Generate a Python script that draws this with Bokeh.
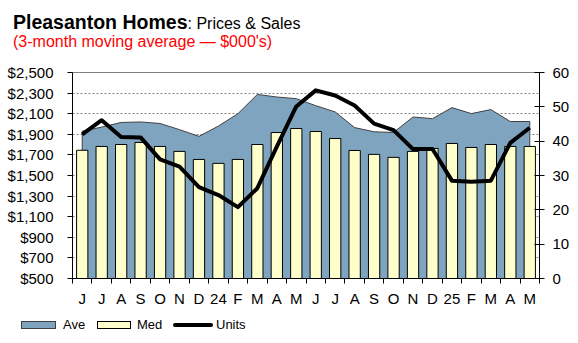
from bokeh.plotting import figure
from bokeh.layouts import column
from bokeh.models import (Range1d, LinearAxis, FixedTicker, NumeralTickFormatter, Div)
from bokeh.embed import file_html
from bokeh.resources import INLINE

months = ["J", "J", "A", "S", "O", "N", "D", "24", "F", "M", "A", "M",
          "J", "J", "A", "S", "O", "N", "D", "25", "F", "M", "A", "M"]
ave = [1930, 1970, 2015, 2020, 2005, 1945, 1880, 1980, 2100, 2287, 2262, 2246,
       2178, 2117, 1965, 1924, 1918, 2068, 2052, 2159, 2101, 2140, 2024, 2024]
med = [1745, 1782, 1801, 1821, 1782, 1734, 1656, 1618, 1656, 1801, 1917, 1956,
       1927, 1859, 1743, 1705, 1676, 1734, 1763, 1811, 1772, 1801, 1782, 1782]
units = [42.0, 46.1, 41.2, 41.1, 34.7, 32.6, 26.6, 24.3, 20.8, 26.3, 38.4, 50.1,
         54.8, 53.3, 50.4, 45.1, 43.2, 37.7, 37.7, 28.5, 28.2, 28.5, 39.5, 43.9]
price_ticks = list(range(500, 2501, 200))
unit_ticks = list(range(0, 61, 10))
series_names = ["Ave", "Med", "Units"]

FONT = "Liberation Sans"
AVE_FILL = "#7fa4bf"
MED_FILL = "#ffffcc"
n = len(months)
centers = [i + 0.5 for i in range(n)]
TITLE_H = 50
LEG_H = 34
MAIN_H = 343 - TITLE_H - LEG_H

title = Div(text=("<div style=\"font-family:'Liberation Sans';white-space:nowrap\">"
                  "<div style='position:absolute;left:13px;top:13.5px;line-height:17px'>"
                  "<span style='font-weight:bold;font-size:19.5px'>Pleasanton Homes</span>"
                  "<span style='font-size:16px'>: Prices &amp; Sales</span></div>"
                  "<div style='position:absolute;left:13px;top:35px;line-height:14px;"
                  "font-size:16px;color:red'>"
                  "(3-month moving average \u2014 $000's)</div></div>"),
            width=578, height=TITLE_H, margin=0, styles={"position": "relative"})

p = figure(width=578, height=MAIN_H, x_range=Range1d(0, n), y_range=Range1d(500, 2500),
           min_border_left=72, min_border_right=39, min_border_top=72 - TITLE_H,
           min_border_bottom=MAIN_H - 207 - (72 - TITLE_H),
           output_backend="svg", toolbar_location=None, margin=0)
p.title.visible = False
p.extra_y_ranges = {"units": Range1d(0, 60)}
p.outline_line_color = "#808080"
p.background_fill_color = "white"
p.border_fill_color = "white"

# grid
p.xgrid.visible = False
p.ygrid.ticker = FixedTicker(ticks=price_ticks)
p.ygrid.grid_line_color = "#808080"
p.ygrid.grid_line_dash = "2 2"
p.ygrid.grid_line_width = 1

# Ave area
area_x = [centers[0]] + centers + [centers[-1]]
area_y = [500] + ave + [500]
p.patch(area_x, area_y, fill_color=AVE_FILL, line_color="#404040", line_width=1)

# Med bars
p.vbar(x=centers, top=med, bottom=500, width=0.58, fill_color=MED_FILL,
       line_color="black", line_width=1)

# Units line
p.line(centers, units, y_range_name="units", line_color="black", line_width=4,
       line_join="round")

# x axis
xa = p.xaxis[0]
xa.ticker = FixedTicker(ticks=centers, minor_ticks=list(range(n + 1)))
xa.major_label_overrides = {c: m for c, m in zip(centers, months)}
xa.major_tick_line_color = None
xa.major_tick_out = 5
xa.major_tick_in = 0
xa.minor_tick_out = 5
xa.minor_tick_in = 0
xa.minor_tick_line_color = "black"
xa.axis_line_color = "black"
xa.major_label_text_font = FONT
xa.major_label_text_font_size = "15px"
xa.major_label_text_color = "black"
xa.major_label_standoff = 6

# left axis
ya = p.yaxis[0]
ya.ticker = FixedTicker(ticks=price_ticks)
ya.formatter = NumeralTickFormatter(format="$0,0")
ya.major_tick_out = 5
ya.major_tick_in = 0
ya.minor_tick_line_color = None
ya.axis_line_color = "black"
ya.major_tick_line_color = "black"
ya.major_label_text_font = FONT
ya.major_label_text_font_size = "15px"
ya.major_label_text_color = "black"
ya.major_label_standoff = 14

# right axis
ra = LinearAxis(y_range_name="units", ticker=FixedTicker(ticks=unit_ticks))
ra.major_tick_out = 5
ra.major_tick_in = 5
ra.minor_tick_line_color = None
ra.axis_line_color = "black"
ra.major_tick_line_color = "black"
ra.major_label_text_font = FONT
ra.major_label_text_font_size = "15px"
ra.major_label_text_color = "black"
ra.major_label_standoff = 8
p.add_layout(ra, "right")

# legend strip
sw = ("position:absolute;box-sizing:border-box;")
leg_html = (
    "<div style=\"font-family:'Liberation Sans';font-size:13px;line-height:14px;"
    "white-space:nowrap;color:black\">"
    f"<div style='{sw}left:21px;top:12px;width:35px;height:8px;background:{AVE_FILL};"
    "border:1px solid #404040'></div>"
    f"<div style='position:absolute;left:63px;top:9px'>{series_names[0]}</div>"
    f"<div style='{sw}left:97px;top:12px;width:34px;height:8px;background:{MED_FILL};"
    "border:1px solid black'></div>"
    f"<div style='position:absolute;left:137px;top:9px'>{series_names[1]}</div>"
    f"<div style='{sw}left:173px;top:14px;width:40px;height:4px;background:black;"
    "border-radius:2px'></div>"
    f"<div style='position:absolute;left:216px;top:9px'>{series_names[2]}</div>"
    "</div>")
legend = Div(text=leg_html, width=578, height=LEG_H, margin=0, styles={"position": "relative"})

layout = column(title, p, legend, spacing=0, margin=0)
open("out.html", "w").write(file_html(layout, INLINE))
